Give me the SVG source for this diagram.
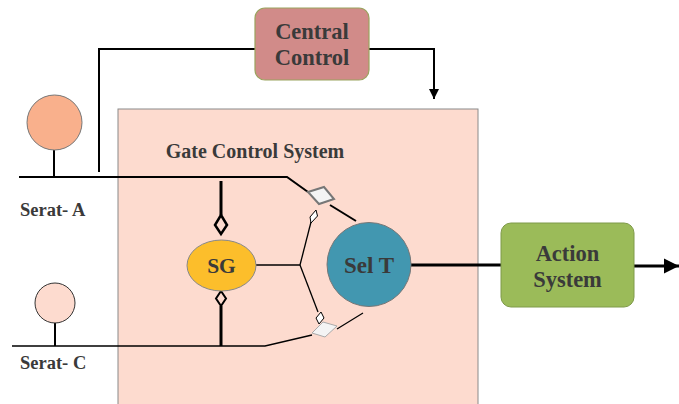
<svg xmlns="http://www.w3.org/2000/svg" width="679" height="404" viewBox="0 0 679 404">
  <style>
    .lbl { font-family: "Liberation Serif", "Times New Roman", serif; font-weight: bold; fill: #3a3a3a; text-anchor: middle; }
    .side { font-family: "Liberation Serif", "Times New Roman", serif; font-weight: bold; fill: #3a3a3a; }
    .wire { fill: none; stroke: #000; stroke-width: 2; }
    .thin { fill: none; stroke: #000; stroke-width: 1.3; }
    .thick { fill: none; stroke: #000; stroke-width: 3; }
  </style>
  <defs>
    <marker id="arrow" viewBox="0 0 10 10" refX="10" refY="5" markerWidth="5" markerHeight="6" markerUnits="strokeWidth" orient="auto">
      <path d="M0,0 L10,5 L0,10 Z" fill="#000"/>
    </marker>
  </defs>

  <rect width="679" height="404" fill="#fff"/>

  <!-- gate control system area -->
  <g id="gate-control-system">
    <rect x="118" y="109" width="360" height="300" fill="#fddbcf" stroke="#8a8a8a" stroke-width="1"/>
    <text class="lbl" x="255" y="158" font-size="20">Gate Control System</text>
  </g>

  <g id="connectors">
    <!-- Serat-A line and tap to central control -->
    <polyline class="wire" points="19,177 287,177 308,192"/>
    <polyline class="wire" points="99,172 99,49 255,49"/>
    <polyline class="wire" points="369,49 434,49 434,99" marker-end="url(#arrow)"/>
    <line class="wire" x1="330" y1="205" x2="356" y2="221"/>
    <!-- Serat-C line -->
    <polyline class="thin" points="12,346 265,346 312,335"/>
    <line class="thin" x1="337" y1="329" x2="363" y2="313"/>
    <!-- SG links -->
    <line class="thick" x1="221" y1="181" x2="221" y2="215"/>
    <line class="thick" x1="221" y1="306" x2="221" y2="346"/>
    <line class="thin" x1="256" y1="265" x2="300" y2="265"/>
    <line class="thin" x1="300" y1="265" x2="311" y2="222"/>
    <line class="thin" x1="300" y1="265" x2="318" y2="312"/>
    <!-- diamonds -->
    <polygon points="221,215 227,225 221,234 215,225" fill="#fddbcf" stroke="#000" stroke-width="2.5"/>
    <polygon points="221,291 226,298.5 221,306 216,298.5" fill="#fddbcf" stroke="#000" stroke-width="2"/>
    <polygon points="316,210 317.5,216 311,223 310,217" fill="#fff" stroke="#000" stroke-width="1"/>
    <polygon points="321,312 324,318 319,324 316,318" fill="#fff" stroke="#000" stroke-width="1"/>
    <polygon points="308,192 324,187 334,199 319,204" fill="#f4f4f4" stroke="#777" stroke-width="2"/>
    <polygon points="312,333 323,322 337,326 325,337" fill="#f4f4f4" stroke="#aaa" stroke-width="1"/>
    <!-- outputs -->
    <line class="thick" x1="411" y1="265" x2="501" y2="265"/>
    <line class="thick" x1="634" y1="266" x2="679" y2="266" marker-end="url(#arrow)"/>
  </g>

  <g id="serat-a">
    <line class="wire" x1="54" y1="150" x2="54" y2="177"/>
    <circle cx="54.5" cy="122.5" r="27.5" fill="#f9b08c" stroke="#777" stroke-width="1"/>
    <text class="side" x="20" y="216" font-size="18.5">Serat- A</text>
  </g>

  <g id="serat-c">
    <line class="wire" x1="55" y1="322" x2="55" y2="346"/>
    <circle cx="55" cy="303" r="20" fill="#fddbcf" stroke="#333" stroke-width="1"/>
    <text class="side" x="20" y="369" font-size="18.5">Serat- C</text>
  </g>

  <g id="central-control">
    <rect x="255" y="8" width="114" height="72" rx="10" fill="#d18b89" stroke="#9aa35e" stroke-width="1.2"/>
    <text class="lbl" x="312" y="39" font-size="22.5">Central</text>
    <text class="lbl" x="312" y="65" font-size="22.5">Control</text>
  </g>

  <g id="sg">
    <ellipse cx="221.5" cy="265.5" rx="34.5" ry="25.5" fill="#fcbe2b" stroke="#888" stroke-width="1"/>
    <text class="lbl" x="221.5" y="273" font-size="21.5">SG</text>
  </g>

  <g id="sel-t">
    <circle cx="369" cy="264.5" r="42" fill="#4297b0" stroke="#777" stroke-width="1"/>
    <text class="lbl" x="369" y="273" font-size="23">Sel T</text>
  </g>

  <g id="action-system">
    <rect x="501" y="223" width="133" height="84" rx="10" fill="#9bbb59" stroke="#7f9a4a" stroke-width="1"/>
    <text class="lbl" x="567.5" y="261" font-size="22.5">Action</text>
    <text class="lbl" x="567.5" y="287" font-size="22.5">System</text>
  </g>
</svg>
